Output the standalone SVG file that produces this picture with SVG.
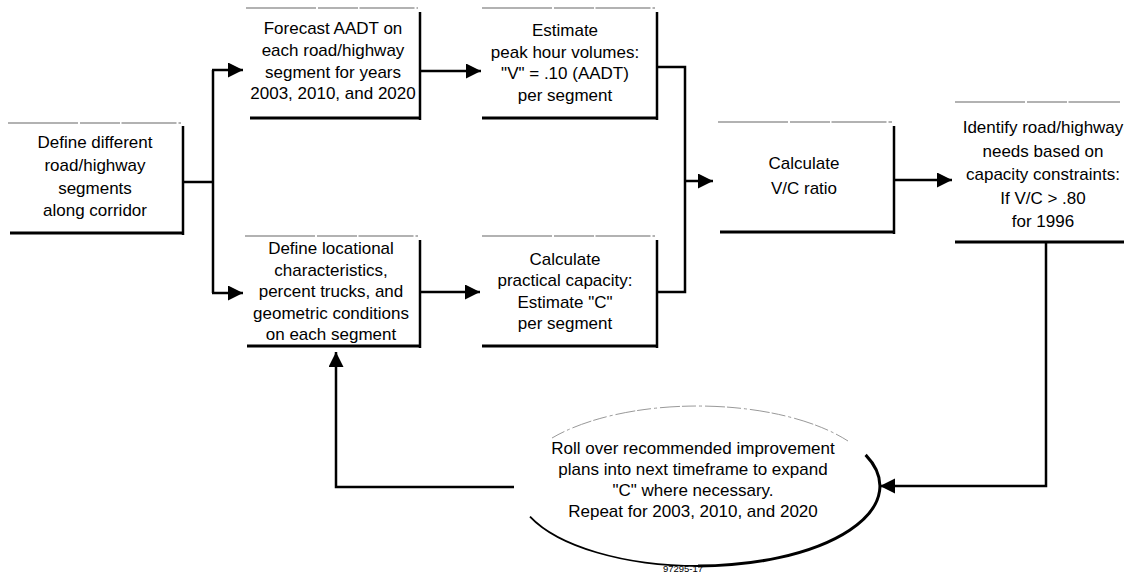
<svg xmlns="http://www.w3.org/2000/svg" width="1124" height="573" viewBox="0 0 1124 573">
<style>
  .top { stroke: #666; stroke-width: 1.2; fill: none; stroke-dasharray: 70 2 40 1.5 55 2; }
  .edge { stroke: #000; stroke-width: 2.5; fill: none; }
  .base { stroke: #000; stroke-width: 3.2; fill: none; }
  .conn { stroke: #000; stroke-width: 2.5; fill: none; }
  text { font-family: "Liberation Sans", Arial, sans-serif; font-size: 17px; fill: #000; text-anchor: middle; }
  .small { font-size: 9.5px; }
  .faint { stroke: #999; stroke-width: 1; fill: none; stroke-dasharray: 14 3 3 3 20 2; }
</style>
<defs>
  <marker id="arr" markerUnits="userSpaceOnUse" markerWidth="16" markerHeight="16" refX="15" refY="7.5" orient="auto">
    <path d="M0,0 L15,7.5 L0,15 z" fill="#000"/>
  </marker>
</defs>
<rect width="1124" height="573" fill="#fff"/>

<g id="n1">
  <line class="top" x1="8" y1="123" x2="181" y2="123"/>
  <line class="edge" x1="183" y1="126" x2="183" y2="235"/>
  <line class="base" x1="10" y1="233" x2="184" y2="233"/>
  <text x="95" y="148">Define different</text>
  <text x="95" y="171">road/highway</text>
  <text x="95" y="194">segments</text>
  <text x="95" y="216">along corridor</text>
</g>

<g id="n2">
  <line class="top" x1="246" y1="8" x2="418" y2="8"/>
  <line class="edge" x1="420" y1="12" x2="420" y2="120"/>
  <line class="base" x1="250" y1="118" x2="421" y2="118"/>
  <text x="333" y="34">Forecast AADT on</text>
  <text x="333" y="56">each road/highway</text>
  <text x="333" y="78">segment for years</text>
  <text x="333" y="99">2003, 2010, and 2020</text>
</g>

<g id="n3">
  <line class="top" x1="482" y1="8" x2="655" y2="8"/>
  <line class="edge" x1="657" y1="12" x2="657" y2="120"/>
  <line class="base" x1="482" y1="118" x2="658" y2="118"/>
  <text x="565" y="36">Estimate</text>
  <text x="565" y="58">peak hour volumes:</text>
  <text x="565" y="79">"V" = .10 (AADT)</text>
  <text x="565" y="101">per segment</text>
</g>

<g id="n4">
  <line class="top" x1="245" y1="236" x2="418" y2="236"/>
  <line class="edge" x1="420" y1="240" x2="420" y2="348"/>
  <line class="base" x1="247" y1="346" x2="421" y2="346"/>
  <text x="331" y="254">Define locational</text>
  <text x="331" y="275.5">characteristics,</text>
  <text x="331" y="297">percent trucks, and</text>
  <text x="331" y="318.5">geometric conditions</text>
  <text x="331" y="340">on each segment</text>
</g>

<g id="n5">
  <line class="top" x1="482" y1="236" x2="655" y2="236"/>
  <line class="edge" x1="657" y1="240" x2="657" y2="348"/>
  <line class="base" x1="482" y1="346" x2="658" y2="346"/>
  <text x="565" y="265">Calculate</text>
  <text x="565" y="286">practical capacity:</text>
  <text x="565" y="308">Estimate "C"</text>
  <text x="565" y="329">per segment</text>
</g>

<g id="n6">
  <line class="top" x1="718" y1="122" x2="892" y2="122"/>
  <line class="edge" x1="894" y1="126" x2="894" y2="234"/>
  <line class="base" x1="720" y1="232" x2="895" y2="232"/>
  <text x="804" y="169">Calculate</text>
  <text x="804" y="194">V/C ratio</text>
</g>

<g id="n7">
  <line class="top" x1="955" y1="102" x2="1120" y2="102"/>
  <line class="base" x1="955" y1="242" x2="1124" y2="242"/>
  <text x="1043" y="133">Identify road/highway</text>
  <text x="1043" y="156.5">needs based on</text>
  <text x="1043" y="180">capacity constraints:</text>
  <text x="1043" y="203.5">If V/C &gt; .80</text>
  <text x="1043" y="227">for 1996</text>
</g>

<g id="n8">
  <path class="faint" d="M552 438 A182 80 0 0 1 848 441"/>
  <path d="M865.6 454.9 A182 80 0 0 1 698 566" stroke="#000" stroke-width="3" fill="none"/>
  <path d="M698 566 A182 80 0 0 1 530 516.6" stroke="#000" stroke-width="1.8" fill="none"/>
  <text x="693" y="454">Roll over recommended improvement</text>
  <text x="693" y="475">plans into next timeframe to expand</text>
  <text x="693" y="496">"C" where necessary.</text>
  <text x="693" y="517">Repeat for 2003, 2010, and 2020</text>
</g>

<g id="connectors">
  <path class="conn" d="M183 182 H213"/>
  <path class="conn" d="M213 70 V293"/>
  <path class="conn" d="M212 70 H243" marker-end="url(#arr)"/>
  <path class="conn" d="M212 293 H243" marker-end="url(#arr)"/>
  <path class="conn" d="M420 71 H481" marker-end="url(#arr)"/>
  <path class="conn" d="M420 292 H480" marker-end="url(#arr)"/>
  <path class="conn" d="M657 67 H685 V292 H657"/>
  <path class="conn" d="M685 181 H713" marker-end="url(#arr)"/>
  <path class="conn" d="M894 180 H952" marker-end="url(#arr)"/>
  <path class="conn" d="M1046 242 V486 H880" marker-end="url(#arr)"/>
  <path class="conn" d="M514 487 H336 V352" marker-end="url(#arr)"/>
</g>

<text class="small" x="683" y="572">97295-17</text>
</svg>
